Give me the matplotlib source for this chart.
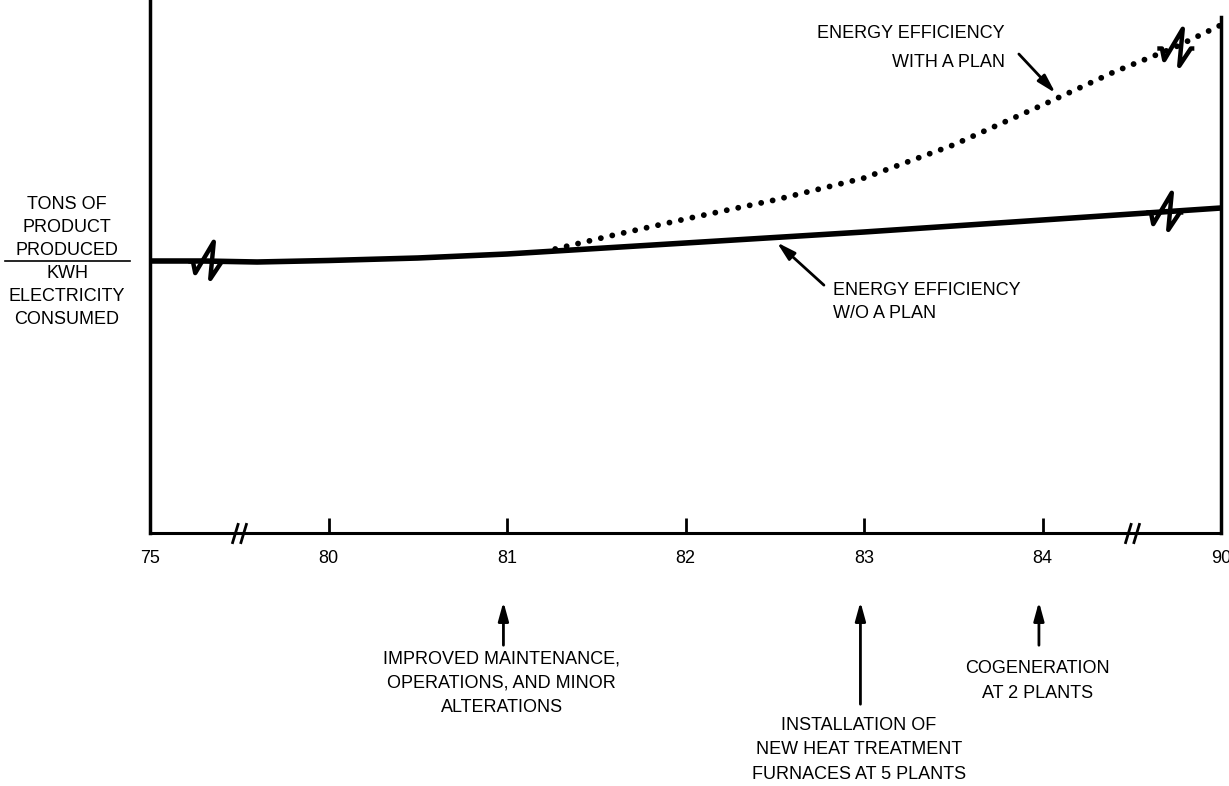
import numpy as np
import matplotlib
matplotlib.use('Agg')
import matplotlib.pyplot as plt
from matplotlib.path import Path
from matplotlib.lines import Line2D

plt.rcParams['font.family'] = ['Liberation Sans', 'DejaVu Sans']

# axis years (broken axis: 75 // 80 81 82 83 84 // 90)
tick_years = [75, 80, 81, 82, 83, 84, 90]
tick_labels = ['75', '80', '81', '82', '83', '84', '90']

# energy efficiency without a plan (relative units)
wo_years = [75, 76.5, 78, 80, 80.5, 81, 81.5, 82, 82.5, 83, 83.5, 84, 86, 88, 90]
wo_values = [272, 272, 271, 272.5, 275, 279, 284.5, 290, 295.5, 301, 307, 313, 317, 321, 325]

# energy efficiency with a plan
with_years = [81.27, 81.6, 82, 82.5, 83, 83.5, 84, 86.4, 88.4, 90]
with_values = [284, 298, 314, 333, 355, 388, 428, 461, 485, 508]

# breaks
axis_break_years = [77.5, 87]
wo_break_years = [76.5, 88]
with_break_years = [88.4]

# events under the axis
event_years = [81, 83, 84]
event_texts = ['IMPROVED MAINTENANCE,\nOPERATIONS, AND MINOR\nALTERATIONS',
               'INSTALLATION OF\nNEW HEAT TREATMENT\nFURNACES AT 5 PLANTS',
               'COGENERATION\nAT 2 PLANTS']
event_arrow_len = [49, 108, 49]
event_text_y = [-150, -217, -148]


def pos(year):
    return np.interp(year, tick_years, range(len(tick_years)))


fig = plt.figure(figsize=(12.29, 7.86), dpi=100)
ax = fig.add_axes([150 / 1229, 1 - 533 / 786, 1071 / 1229, 533 / 786])
ax.set_xlim(0, 6)
ax.set_ylim(0, 533)

wo_x = pos(wo_years)
with_x = pos(with_years)

ax.plot(wo_x, wo_values, color='black', lw=4, solid_capstyle='butt',
        solid_joinstyle='round', zorder=3)
ax.plot(with_x, with_values, color='black', lw=4.2, linestyle=(0, (0.01, 2.0)),
        dash_capstyle='round', zorder=3)

# zigzag break marks on the lines
zig = Path([(-14, 0), (-10, 0), (-8, -10), (8, 17), (5, -15), (15, 0), (18, 0)])
for y in wo_break_years:
    ax.plot(pos(y), np.interp(pos(y), wo_x, wo_values), marker=zig, ms=30,
            mfc='none', mec='black', mew=3.2, zorder=4)
for y in with_break_years:
    ax.plot(pos(y), np.interp(pos(y), with_x, with_values), marker=zig, ms=30,
            mfc='none', mec='black', mew=3.2, zorder=4)

# axis break marks //
slashes = Path([(-0.7, -1), (-0.1, 1), (0.1, -1), (0.7, 1)],
               [Path.MOVETO, Path.LINETO, Path.MOVETO, Path.LINETO])
for y in axis_break_years:
    ax.plot(pos(y), 0, marker=slashes, ms=15, mfc='none', mec='black', mew=2,
            clip_on=False, zorder=5)

# spines
for s in ['top', 'right']:
    ax.spines[s].set_visible(False)
ax.spines['left'].set_linewidth(2.5)
ax.spines['bottom'].set_linewidth(2.2)
ax.axvline(6, ymax=516 / 533, color='black', lw=2.5, clip_on=False)

ax.set_xticks(range(len(tick_years)))
ax.set_xticklabels(tick_labels)
ax.set_yticks([])
ax.tick_params(axis='x', direction='in', length=11, width=2, pad=12, labelsize=13)

arrow = dict(arrowstyle='-|>,head_length=0.8,head_width=0.22', lw=2,
             color='black', mutation_scale=14)

# labels on the lines
ax.text(4.79, 485, 'ENERGY EFFICIENCY\nWITH A PLAN', ha='right', va='center',
        multialignment='right', fontsize=13, linespacing=1.95)
tip = pos(84.5)
ax.annotate('', xy=(tip, np.interp(tip, with_x, with_values) + 3), xytext=(4.857, 481),
            arrowprops=arrow)

ax.text(3.826, 231, 'ENERGY EFFICIENCY\nW/O A PLAN', ha='left', va='center',
        multialignment='left', fontsize=13, linespacing=1.5)
tip = pos(82.5)
ax.annotate('', xy=(tip, np.interp(tip, wo_x, wo_values) - 3), xytext=(3.787, 246),
            arrowprops=arrow)

# events below the axis
for yr, txt, alen, ty in zip(event_years, event_texts, event_arrow_len, event_text_y):
    ax.annotate('', xy=(pos(yr) - 0.02, -66), xytext=(pos(yr) - 0.02, -66 - alen),
                arrowprops=arrow, annotation_clip=False)
    ax.text(pos(yr) - 0.03, ty, txt, ha='center', va='center', fontsize=13,
            linespacing=1.55, clip_on=False)

# y label as a fraction
fig.text(67 / 1229, 1 - 259 / 786, 'TONS OF\nPRODUCT\nPRODUCED', ha='center',
         va='bottom', fontsize=13, linespacing=1.45)
fig.add_artist(Line2D([5 / 1229, 130 / 1229], [1 - 261 / 786] * 2, lw=1.2, color='black'))
fig.text(67 / 1229, 1 - 265 / 786, 'KWH\nELECTRICITY\nCONSUMED', ha='center',
         va='top', fontsize=13, linespacing=1.45)

fig.savefig('out.png', dpi=100)
